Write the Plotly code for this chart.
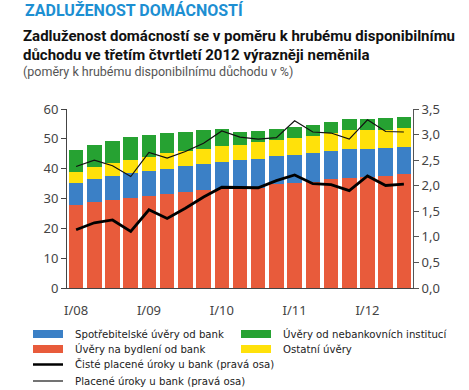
import plotly.graph_objects as go

# ---- data ----
quarters = ["I/08","II/08","III/08","IV/08","I/09","II/09","III/09","IV/09",
            "I/10","II/10","III/10","IV/10","I/11","II/11","III/11","IV/11",
            "I/12","II/12","III/12"]
tick_labels = ["I/08", "I/09", "I/10", "I/11", "I/12"]

housing = [27.7, 28.8, 29.5, 30.3, 31.0, 31.6, 32.2, 32.9, 33.3, 33.4, 33.6, 34.7, 35.1, 35.5, 36.5, 36.9, 37.1, 37.5, 38.2]
consumer = [7.5, 7.6, 8.0, 8.1, 8.3, 8.4, 8.8, 8.7, 8.9, 9.5, 9.8, 9.5, 9.4, 9.6, 9.3, 9.7, 9.5, 9.3, 9.2]
other = [3.8, 4.1, 4.4, 4.5, 4.5, 5.1, 4.8, 5.0, 5.3, 5.1, 5.4, 5.4, 5.7, 5.9, 6.0, 6.3, 6.4, 6.3, 6.2]
nonbank = [7.3, 7.5, 7.4, 7.7, 7.6, 6.7, 6.5, 6.3, 5.7, 4.3, 3.8, 3.7, 3.9, 3.7, 3.8, 3.9, 3.7, 3.8, 3.8]

net_interest = [1.14, 1.275, 1.33, 1.105, 1.53, 1.36, 1.56, 1.78, 1.97, 1.96, 1.96, 2.10, 2.21, 2.04, 2.02, 1.905, 2.19, 2.005, 2.03]
paid_interest = [2.375, 2.50, 2.39, 2.18, 2.65, 2.54, 2.67, 2.83, 3.07, 2.95, 2.91, 2.94, 3.27, 3.05, 3.03, 2.91, 3.29, 3.06, 3.05]

names = {
    "consumer": "Spotřebitelské úvěry od bank",
    "housing": "Úvěry na bydlení od bank",
    "nonbank": "Úvěry od nebankovních institucí",
    "other": "Ostatní úvěry",
    "net": "Čisté placené úroky u bank (pravá osa)",
    "paid": "Placené úroky u bank (pravá osa)",
}
colors = {"consumer": "#3b80c6", "housing": "#e85b3b", "nonbank": "#26a232", "other": "#ffe10a"}

W, H = 469, 390
L, R, T, B = 67, 56, 109, 102
PW, PH = W - L - R, H - T - B

def px(x):  # page pixel -> paper x
    return (x - L) / PW

def py(y):  # page pixel -> paper y
    return (H - B - y) / PH

x = list(range(len(quarters)))
tickvals = [quarters.index(t) for t in tick_labels]

fig = go.Figure()
for key, vals in [("housing", housing), ("consumer", consumer), ("other", other), ("nonbank", nonbank)]:
    fig.add_trace(go.Bar(x=x, y=vals, name=names[key], marker_color=colors[key],
                         marker_line_width=0, yaxis="y", showlegend=False))
fig.add_trace(go.Scatter(x=x, y=paid_interest, name=names["paid"], mode="lines",
                         line=dict(color="#111", width=1.2), yaxis="y2", showlegend=False))
fig.add_trace(go.Scatter(x=x, y=net_interest, name=names["net"], mode="lines",
                         line=dict(color="#000", width=2.8), yaxis="y2", showlegend=False))

tickfont = dict(family="Noto Sans, Open Sans, sans-serif", size=13, color="#444")
fig.update_layout(
    width=W, height=H, margin=dict(l=L, r=R, t=T, b=B),
    paper_bgcolor="white", plot_bgcolor="white",
    barmode="stack", bargap=0.2, separators=", ",
    xaxis=dict(range=[-0.5, len(quarters) - 0.5], tickvals=tickvals, ticktext=tick_labels,
               showline=True, linecolor="#444", linewidth=1, ticks="outside", ticklen=10,
               tickcolor="rgba(0,0,0,0)", tickfont=tickfont, showgrid=False, zeroline=False),
    yaxis=dict(range=[0, 60], dtick=10, showline=True, linecolor="#444", linewidth=1,
               ticks="outside", ticklen=5, tickcolor="#444", tickfont=tickfont,
               showgrid=False, zeroline=False),
    yaxis2=dict(range=[0, 3.5], dtick=0.5, tickformat=".1f", overlaying="y", side="right",
                showline=True, linecolor="#555", linewidth=1, ticks="outside", ticklen=5,
                tickcolor="#555", tickfont=tickfont, showgrid=False, zeroline=False),
    showlegend=False,
)

# ---- titles ----
fig.add_annotation(text="<b>ZADLUŽENOST DOMÁCNOSTÍ</b>", xref="paper", yref="paper",
                   x=px(23), y=py(10), xanchor="left", yanchor="middle", showarrow=False,
                   font=dict(family="Roboto, sans-serif", size=16, color="#1d8fd2"))
fig.add_annotation(text="<b>Zadluženost domácností se v poměru k hrubému disponibilnímu</b>",
                   xref="paper", yref="paper", x=px(21), y=py(36), xanchor="left", yanchor="middle",
                   showarrow=False, font=dict(family="Roboto, sans-serif", size=15, color="#111"))
fig.add_annotation(text="<b>důchodu ve třetím čtvrtletí 2012 výrazněji neměnila</b>",
                   xref="paper", yref="paper", x=px(21), y=py(55), xanchor="left", yanchor="middle",
                   showarrow=False, font=dict(family="Roboto, sans-serif", size=15, color="#111"))
fig.add_annotation(text="(poměry k hrubému disponibilnímu důchodu v %)",
                   xref="paper", yref="paper", x=px(21), y=py(72), xanchor="left", yanchor="middle",
                   showarrow=False, font=dict(family="Roboto, sans-serif", size=12.5, color="#555"))

# ---- legend (manual, two columns for bars, one column for lines) ----
legfont = dict(family="Liberation Sans Narrow, DejaVu Sans Condensed, sans-serif", size=11.3, color="#222")
swatches = [("consumer", 33, 334), ("nonbank", 241, 334), ("housing", 33, 349), ("other", 241, 349)]
for key, sx, sy in swatches:
    fig.add_shape(type="rect", xref="paper", yref="paper", x0=px(sx), x1=px(sx + 30),
                  y0=py(sy + 4), y1=py(sy - 4), fillcolor=colors[key], line_width=0)
    fig.add_annotation(text=names[key], xref="paper", yref="paper", x=px(sx + 40), y=py(sy),
                       xanchor="left", yanchor="middle", showarrow=False, font=legfont)
for key, sy, lw in [("net", 364.5, 2.5), ("paid", 381, 1.1)]:
    fig.add_shape(type="line", xref="paper", yref="paper", x0=px(33), x1=px(63),
                  y0=py(sy), y1=py(sy), line=dict(color="#000", width=lw))
    fig.add_annotation(text=names[key], xref="paper", yref="paper", x=px(73), y=py(sy),
                       xanchor="left", yanchor="middle", showarrow=False, font=legfont)

fig.write_html("out.html", config={"displayModeBar": False},
               post_script="document.body.style.margin='0';document.body.style.overflow='hidden';")
